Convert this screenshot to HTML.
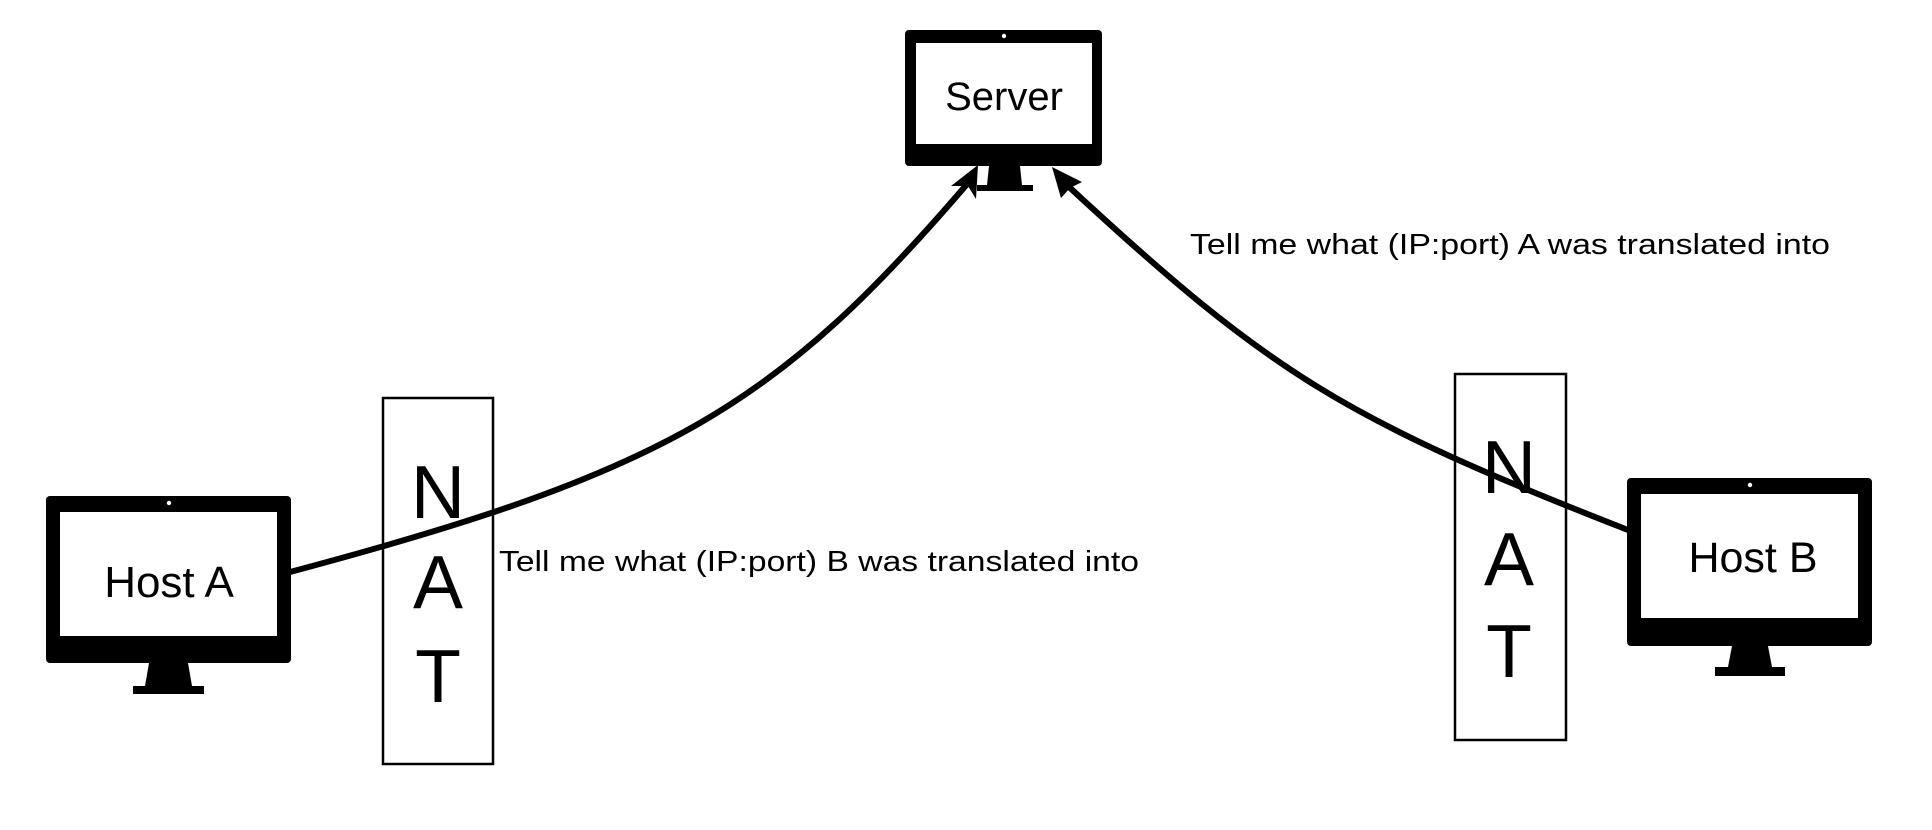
<!DOCTYPE html>
<html><head><meta charset="utf-8"><style>
html,body{margin:0;padding:0;background:#fff;}
svg{display:block;}
text{font-family:"Liberation Sans",Arial,sans-serif;fill:#000;}
</style></head><body>
<svg width="1932" height="830" viewBox="0 0 1932 830" xmlns="http://www.w3.org/2000/svg">
<rect width="1932" height="830" fill="#fff"/>
<!-- Server -->
<rect x="905" y="30" width="197" height="136" rx="4" fill="#000"/>
<rect x="916" y="43" width="176" height="101" fill="#fff"/>
<circle cx="1004" cy="36" r="2.2" fill="#fff"/>
<polygon points="989,166 1020,166 1022,185 987,185" fill="#000"/>
<rect x="977" y="185" width="56" height="6" fill="#000"/>
<text x="1004" y="110" font-size="40" text-anchor="middle">Server</text>
<!-- Host A -->
<rect x="46" y="496" width="245" height="167" rx="4" fill="#000"/>
<rect x="60" y="512" width="217" height="124" fill="#fff"/>
<circle cx="169" cy="503" r="2.2" fill="#fff"/>
<polygon points="149,663 188,663 192,686 145,686" fill="#000"/>
<rect x="133" y="686" width="71" height="8" fill="#000"/>
<text x="169" y="597" font-size="44" text-anchor="middle">Host A</text>
<!-- Host B -->
<rect x="1627" y="478" width="245" height="168" rx="4" fill="#000"/>
<rect x="1641" y="494" width="217" height="124" fill="#fff"/>
<circle cx="1750" cy="485" r="2.2" fill="#fff"/>
<polygon points="1732,646 1768,646 1772,667 1728,667" fill="#000"/>
<rect x="1715" y="667" width="70" height="9" fill="#000"/>
<text x="1753" y="572" font-size="43" text-anchor="middle">Host B</text>
<!-- NAT boxes -->
<rect x="383" y="398" width="110" height="366" fill="none" stroke="#000" stroke-width="2.5"/>
<g font-size="75" text-anchor="middle">
<text x="438" y="518">N</text><text x="438" y="608">A</text><text x="438" y="702">T</text>
</g>
<rect x="1455" y="374" width="111" height="366" fill="none" stroke="#000" stroke-width="2.5"/>
<g font-size="75" text-anchor="middle">
<text x="1509" y="493">N</text><text x="1509" y="585">A</text><text x="1509" y="677">T</text>
</g>
<!-- connectors -->
<path d="M290,572 C669,471 777,406 968,183" fill="none" stroke="#000" stroke-width="6"/>
<polygon points="978,165 976,199 968,186 951,186" fill="#000"/>
<path d="M1628,530 C1344,419 1271,374 1068,186" fill="none" stroke="#000" stroke-width="6"/>
<polygon points="1052,167 1082,182 1070,188 1061,198" fill="#000"/>
<!-- labels -->
<text x="499" y="571" font-size="29" textLength="640" lengthAdjust="spacingAndGlyphs">Tell me what (IP:port) B was translated into</text>
<text x="1190" y="254" font-size="29" textLength="640" lengthAdjust="spacingAndGlyphs">Tell me what (IP:port) A was translated into</text>
</svg>
</body></html>
